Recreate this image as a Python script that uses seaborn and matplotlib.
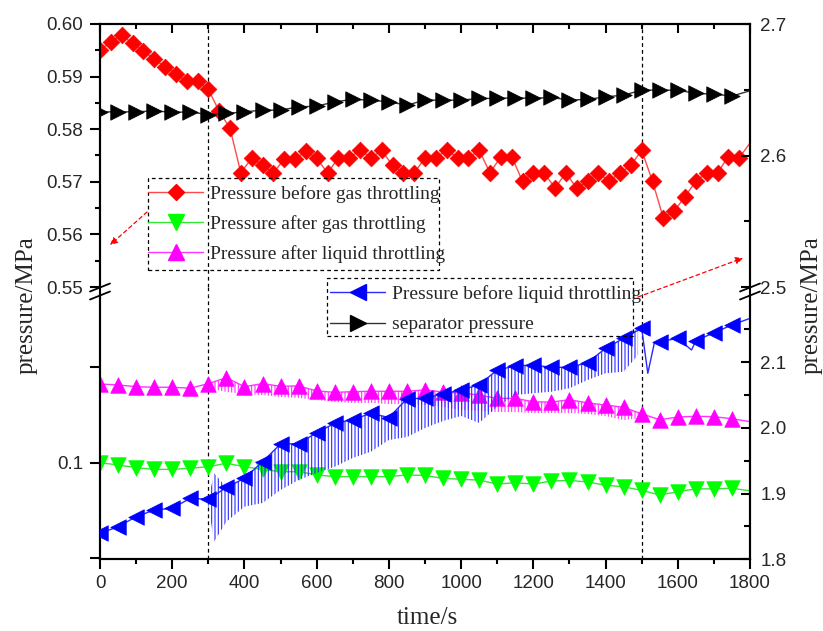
import numpy as np
import matplotlib
matplotlib.use("Agg")
import matplotlib.pyplot as plt
import seaborn as sns
from matplotlib.lines import Line2D
from matplotlib.patches import Rectangle, FancyArrowPatch
from matplotlib.ticker import MultipleLocator, FixedLocator, FixedFormatter, FormatStrFormatter
from matplotlib.font_manager import FontProperties

# ---------------- data ----------------
time_30 = np.arange(0, 1800, 30)          # red marker times (s)
time_50 = np.arange(0, 1800, 50)          # other marker times (s)
time_end = 1800

gas_before = [0.5951, 0.5965, 0.5979, 0.5963, 0.5949, 0.5933, 0.5919, 0.5905, 0.5891, 0.5891,
              0.5876, 0.5834, 0.5802, 0.5717, 0.5745, 0.5731, 0.5717, 0.5743, 0.5743, 0.5758,
              0.5745, 0.5717, 0.5745, 0.5745, 0.5761, 0.5745, 0.5760, 0.5731, 0.5717, 0.5717,
              0.5745, 0.5745, 0.5761, 0.5745, 0.5745, 0.5760, 0.5717, 0.5748, 0.5748, 0.5701,
              0.5717, 0.5717, 0.5688, 0.5717, 0.5688, 0.5701, 0.5717, 0.5701, 0.5717, 0.5731,
              0.5760, 0.5701, 0.5631, 0.5644, 0.5672, 0.5701, 0.5717, 0.5717, 0.5748, 0.5745]
gas_before_end = 0.5774

separator = [2.6332, 2.6332, 2.6332, 2.6340, 2.6328, 2.6332, 2.6310, 2.6320, 2.6332, 2.6345,
             2.6345, 2.6370, 2.6375, 2.6408, 2.6427, 2.6421, 2.6408, 2.6383, 2.6421, 2.6421,
             2.6421, 2.6434, 2.6434, 2.6439, 2.6434, 2.6442, 2.6421, 2.6427, 2.6446, 2.6459,
             2.6497, 2.6497, 2.6497, 2.6472, 2.6467, 2.6452]
separator_end = 2.6492

gas_after = [0.1000, 0.0988, 0.0974, 0.0965, 0.0965, 0.0971, 0.0979, 0.0997, 0.0979, 0.0965,
             0.0953, 0.0953, 0.0936, 0.0927, 0.0927, 0.0927, 0.0927, 0.0936, 0.0933, 0.0918,
             0.0913, 0.0909, 0.0888, 0.0895, 0.0888, 0.0904, 0.0907, 0.0899, 0.0882, 0.0874,
             0.0855, 0.0831, 0.0848, 0.0863, 0.0863, 0.0866]
gas_after_end = 0.0853

liquid_after = [0.1412, 0.1407, 0.1398, 0.1395, 0.1395, 0.1390, 0.1414, 0.1445, 0.1398, 0.1414,
                0.1400, 0.1402, 0.1376, 0.1368, 0.1372, 0.1374, 0.1374, 0.1374, 0.1381, 0.1370,
                0.1365, 0.1354, 0.1337, 0.1337, 0.1319, 0.1317, 0.1330, 0.1313, 0.1302, 0.1290,
                0.1256, 0.1225, 0.1239, 0.1243, 0.1241, 0.1230]
liquid_after_end = 0.1215

liquid_before = [1.8396, 1.8496, 1.8648, 1.8750, 1.8776, 1.8928, 1.8915, 1.9093, 1.9233, 1.9486,
                 1.9755, 1.9760, 1.9927, 2.0070, 2.0125, 2.0222, 2.0158, 2.0443, 2.0451, 2.0519,
                 2.0577, 2.0658, 2.0881, 2.0942, 2.0958, 2.0922, 2.0922, 2.0992, 2.1212, 2.1364,
                 2.1516, 2.1312, 2.1364, 2.1327, 2.1449, 2.1566]
liquid_before_end = 2.1668
liquid_before_dip_t = [1517, 1535, 1638]
liquid_before_dip_v = [2.0831, 2.1290, 2.1186]

# oscillation envelopes (troughs / peaks) during 300-1500 s
liq_before_band_t = [300, 316, 350, 400, 450, 500, 550, 600, 650, 700, 750, 800, 850, 900, 950,
                     1000, 1050, 1100, 1150, 1200, 1250, 1300, 1350, 1400, 1450, 1490]
liq_before_band_lo = [1.8826, 1.8268, 1.8572, 1.8801, 1.8857, 1.9055, 1.9207, 1.9314, 1.9409,
                      1.9542, 1.9638, 1.9816, 1.9861, 1.9998, 2.0105, 2.0181, 2.0075, 2.0323,
                      2.0501, 2.0527, 2.0551, 2.0603, 2.0729, 2.0831, 2.0855, 2.1110]
liq_before_band_hi = [1.8915, 1.9310, 1.9093, 1.9233, 1.9486, 1.9755, 1.9760, 1.9927, 2.0070,
                      2.0125, 2.0222, 2.0158, 2.0443, 2.0451, 2.0519, 2.0577, 2.0658, 2.0881,
                      2.0942, 2.0958, 2.0922, 2.0922, 2.0992, 2.1212, 2.1364, 2.1516]

liq_after_band_t = list(range(300, 1550, 50))
liq_after_band_lo = [0.1391, 0.1370, 0.1360, 0.1354, 0.1344, 0.1339, 0.1328, 0.1318, 0.1313,
                     0.1313, 0.1307, 0.1307, 0.1302, 0.1292, 0.1276, 0.1271, 0.1265, 0.1265,
                     0.1260, 0.1260, 0.1260, 0.1255, 0.1244, 0.1223, 0.1234]
liq_after_band_hi = [0.1414, 0.1445, 0.1398, 0.1414, 0.1400, 0.1402, 0.1376, 0.1368, 0.1372,
                     0.1374, 0.1374, 0.1374, 0.1381, 0.1370, 0.1365, 0.1354, 0.1337, 0.1337,
                     0.1319, 0.1317, 0.1330, 0.1313, 0.1302, 0.1290, 0.1256]

event_times = [300, 1500]

labels = ["Pressure before gas throttling", "Pressure after gas throttling",
          "Pressure after liquid throttling", "Pressure before liquid throttling",
          "separator pressure"]

# ---------------- style ----------------
sns.set_theme(style="ticks")
plt.rcParams.update({
    "font.family": ["Liberation Sans", "DejaVu Sans"],
    "axes.linewidth": 1.5,
    "hatch.linewidth": 0.8,
    "axes.facecolor": "white",
    "figure.facecolor": "white",
})
serif = FontProperties(family=["Liberation Serif", "DejaVu Serif"], size=14)
serif_big = FontProperties(family=["Liberation Serif", "DejaVu Serif"], size=18)

W, H = 823, 631
fig = plt.figure(figsize=(W / 100, H / 100), dpi=100)


def frac(x0, y0, x1, y1):
    return [x0 / W, 1 - y1 / H, (x1 - x0) / W, (y1 - y0) / H]


ax_top = fig.add_axes(frac(100, 24, 750, 287))
ax_bot = fig.add_axes(frac(100, 295, 750, 559.3))
ax_top_r = ax_top.twinx()
ax_bot_r = ax_bot.twinx()

RED, GREEN, MAG, BLUE = "#ff0000", "#00ff00", "#ff00ff", "#0000ff"
LRED, LGREEN, LMAG, LBLUE = "#ff4a4a", "#33e633", "#ff33ff", "#2a2aff"

# ---- red: before gas throttling (left top)
sns.lineplot(x=np.append(time_30, time_end), y=np.append(gas_before, gas_before_end),
             ax=ax_top, color=LRED, linewidth=1.0, estimator=None, legend=False)
sns.scatterplot(x=time_30, y=gas_before, ax=ax_top, marker="D", s=72, color=RED,
                edgecolor=RED, linewidth=0.5, legend=False, zorder=4)

# ---- black: separator (right top)
sns.lineplot(x=np.append(time_50, time_end), y=np.append(separator, separator_end),
             ax=ax_top_r, color="#333333", linewidth=1.0, estimator=None, legend=False)
sns.scatterplot(x=time_50, y=separator, ax=ax_top_r, marker=">", s=125, color="black",
                edgecolor="black", linewidth=0.5, legend=False, zorder=4)

# ---- green: after gas throttling (left bottom)
sns.lineplot(x=np.append(time_50, time_end), y=np.append(gas_after, gas_after_end),
             ax=ax_bot, color=LGREEN, linewidth=1.0, estimator=None, legend=False)
sns.scatterplot(x=time_50, y=gas_after, ax=ax_bot, marker="v", s=125, color=GREEN,
                edgecolor=GREEN, linewidth=0.5, legend=False, zorder=4)

# ---- magenta: after liquid throttling (left bottom)
ax_bot.fill_between(liq_after_band_t, liq_after_band_lo, liq_after_band_hi, facecolor="none",
                    edgecolor=LMAG, hatch="|||||", linewidth=0, zorder=2)
sns.lineplot(x=np.append(time_50, time_end), y=np.append(liquid_after, liquid_after_end),
             ax=ax_bot, color=LMAG, linewidth=1.0, estimator=None, legend=False)
sns.scatterplot(x=time_50, y=liquid_after, ax=ax_bot, marker="^", s=125, color=MAG,
                edgecolor=MAG, linewidth=0.5, legend=False, zorder=4)

# ---- blue: before liquid throttling (right bottom)
ax_bot_r.fill_between(liq_before_band_t, liq_before_band_lo, liq_before_band_hi,
                      facecolor="none", edgecolor=LBLUE, hatch="|||||", linewidth=0, zorder=2)
bx = np.concatenate([time_50, [time_end], liquid_before_dip_t])
by = np.concatenate([liquid_before, [liquid_before_end], liquid_before_dip_v])
sns.lineplot(x=bx, y=by, ax=ax_bot_r, color=LBLUE, linewidth=1.0, estimator=None, legend=False)
sns.scatterplot(x=time_50, y=liquid_before, ax=ax_bot_r, marker="<", s=125, color=BLUE,
                edgecolor=BLUE, linewidth=0.5, legend=False, zorder=4)

# ---------------- axes ----------------
for a in (ax_top, ax_bot, ax_top_r, ax_bot_r):
    a.set_xlim(0, 1800)
    a.set_xlabel("")
    a.set_ylabel("")
    a.patch.set_alpha(0)

ax_top.set_ylim(0.55, 0.60)
ax_top_r.set_ylim(2.5, 2.7)
ax_bot.set_ylim(0.04942, 0.1878)
ax_bot_r.set_ylim(1.8, 2.2023)

for a in (ax_top, ax_top_r):
    a.spines["bottom"].set_visible(False)
for a in (ax_bot, ax_bot_r):
    a.spines["top"].set_visible(False)
for a in (ax_top, ax_top_r, ax_bot, ax_bot_r):
    for s in a.spines.values():
        s.set_linewidth(1.5)
        s.set_color("black")

# x ticks
ax_top.xaxis.set_major_locator(MultipleLocator(200))
ax_top.xaxis.set_minor_locator(MultipleLocator(100))
ax_top.tick_params(axis="x", which="both", top=True, bottom=False, labeltop=False,
                   labelbottom=False, direction="in", width=1.5, color="black")
ax_top.tick_params(axis="x", which="major", length=6.5)
ax_top.tick_params(axis="x", which="minor", length=3.6)
ax_top_r.tick_params(axis="x", which="both", top=False, bottom=False, labelbottom=False)
ax_bot_r.tick_params(axis="x", which="both", top=False, bottom=False, labelbottom=False)

ax_bot.xaxis.set_major_locator(MultipleLocator(200))
ax_bot.xaxis.set_minor_locator(MultipleLocator(100))
ax_bot.tick_params(axis="x", which="both", bottom=True, top=False, direction="out",
                   width=1.5, color="black", labelsize=13.5, pad=3.5)
ax_bot.tick_params(axis="x", which="major", length=7.5)
ax_bot.tick_params(axis="x", which="minor", length=3.6)

# left y ticks
ax_top.yaxis.set_major_locator(MultipleLocator(0.01))
ax_top.yaxis.set_minor_locator(MultipleLocator(0.005))
ax_top.yaxis.set_major_formatter(FormatStrFormatter("%.2f"))
ax_top.tick_params(axis="y", which="both", left=True, right=False, direction="out",
                   width=1.5, color="black", labelsize=13.5, pad=5)
ax_top.tick_params(axis="y", which="major", length=7.2)
ax_top.tick_params(axis="y", which="minor", length=3.6)

ax_bot.yaxis.set_major_locator(FixedLocator([0.05, 0.1, 0.15]))
ax_bot.yaxis.set_major_formatter(FixedFormatter(["", "0.1", ""]))
ax_bot.yaxis.set_minor_locator(FixedLocator([]))
ax_bot.tick_params(axis="y", which="both", left=True, right=False, direction="out",
                   width=1.5, length=7.2, color="black", labelsize=13.5, pad=5)

# right y ticks
ax_top_r.yaxis.set_major_locator(MultipleLocator(0.1))
ax_top_r.yaxis.set_minor_locator(MultipleLocator(0.05))
ax_top_r.yaxis.set_major_formatter(FormatStrFormatter("%.1f"))
ax_bot_r.yaxis.set_major_locator(FixedLocator([1.8, 1.9, 2.0, 2.1]))
ax_bot_r.yaxis.set_minor_locator(FixedLocator([1.85, 1.95, 2.05, 2.15]))
ax_bot_r.yaxis.set_major_formatter(FormatStrFormatter("%.1f"))
for a in (ax_top_r, ax_bot_r):
    a.tick_params(axis="y", which="both", right=True, left=False, direction="in",
                  width=1.5, color="black", labelsize=13.5, pad=7.5)
    a.tick_params(axis="y", which="major", length=6.5)
    a.tick_params(axis="y", which="minor", length=4.3)
    a.grid(False)
for a in (ax_top, ax_bot):
    a.grid(False)

# vertical event lines
for a in (ax_top, ax_bot):
    for t in event_times:
        a.axvline(t, color="black", linewidth=0.9, linestyle=(0, (3, 2.5)), zorder=1)


def fx(px):
    return px / W


def fy(py):
    return 1 - py / H


# gap connections and break marks
for xpix in (100, 750):
    fig.add_artist(Line2D([fx(xpix), fx(xpix)], [fy(287), fy(295)], color="black", lw=1.5))
    for yb in (287.5, 295.5):
        fig.add_artist(Line2D([fx(xpix - 10), fx(xpix + 10)], [fy(yb + 4), fy(yb - 4)],
                              color="black", lw=1.3))
for t in event_times:
    xp = 100 + t * 650 / 1800
    fig.add_artist(Line2D([fx(xp), fx(xp)], [fy(287), fy(295)], color="black",
                          lw=0.9, linestyle=(0, (3, 2.5))))

# axis labels
fig.text(fx(427), fy(618), "time/s", fontproperties=serif_big, ha="center", va="center")
fig.text(fx(27), fy(305), "pressure/MPa", fontproperties=serif_big, ha="center",
         va="center", rotation=90)
fig.text(fx(812), fy(305), "pressure/MPa", fontproperties=serif_big, ha="center",
         va="center", rotation=90)

# legends
h_red = Line2D([], [], color=LRED, lw=1, marker="D", ms=8.5, mfc=RED, mec=RED)
h_green = Line2D([], [], color=LGREEN, lw=1, marker="v", ms=11, mfc=GREEN, mec=GREEN)
h_mag = Line2D([], [], color=LMAG, lw=1, marker="^", ms=11, mfc=MAG, mec=MAG)
h_blue = Line2D([], [], color=LBLUE, lw=1, marker="<", ms=11, mfc=BLUE, mec=BLUE)
h_black = Line2D([], [], color="#333333", lw=1, marker=">", ms=11, mfc="black", mec="black")

leg1 = fig.legend([h_red, h_green, h_mag], labels[:3], loc="upper left",
                  bbox_to_anchor=(fx(148), fy(185)), frameon=False, borderpad=0,
                  borderaxespad=0, handlelength=55 / 19.44, handletextpad=7 / 19.44,
                  labelspacing=0.62, prop=serif)
leg2 = fig.legend([h_blue, h_black], labels[3:], loc="upper left",
                  bbox_to_anchor=(fx(330), fy(285)), frameon=False, borderpad=0,
                  borderaxespad=0, handlelength=55 / 19.44, handletextpad=7 / 19.44,
                  labelspacing=0.66, prop=serif)

fig.add_artist(Rectangle((fx(148), fy(270)), (439 - 148) / W, (270 - 178) / H,
                         transform=fig.transFigure, fill=False, ec="black", lw=0.9,
                         linestyle=(0, (3, 2.5))))
fig.add_artist(Rectangle((fx(326.5), fy(335.5)), (633 - 326.5) / W, (335.5 - 278) / H,
                         transform=fig.transFigure, fill=False, ec="black", lw=0.9,
                         linestyle=(0, (3, 2.5))))

# red dashed arrows
for (x0, y0), (x1, y1) in [((147, 212), (110, 245)), ((638, 297), (743, 258))]:
    fig.add_artist(FancyArrowPatch((fx(x0), fy(y0)), (fx(x1), fy(y1)),
                                   transform=fig.transFigure, arrowstyle="-|>",
                                   mutation_scale=11, color="red", lw=0.9,
                                   linestyle=(0, (3, 2.5)), shrinkA=0, shrinkB=0))

fig.savefig("out.png", dpi=100)
